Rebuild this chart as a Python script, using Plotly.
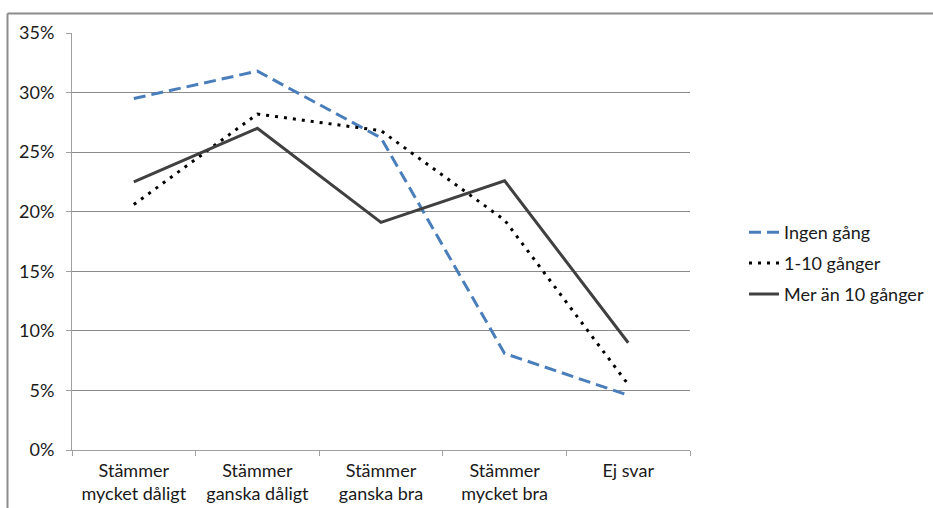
import plotly.graph_objects as go

categories = [
    "Stämmer<br>mycket dåligt",
    "Stämmer<br>ganska dåligt",
    "Stämmer<br>ganska bra",
    "Stämmer<br>mycket bra",
    "Ej svar",
]
ingen_gang = [0.295, 0.318, 0.262, 0.081, 0.046]
en_till_tio = [0.206, 0.282, 0.268, 0.193, 0.055]
mer_an_tio = [0.225, 0.270, 0.191, 0.226, 0.090]

FONT = "Lato, 'Open Sans', sans-serif"

fig = go.Figure()
fig.add_trace(go.Scatter(
    x=categories, y=ingen_gang, mode="lines", name="Ingen gång",
    legendgroup="a", line=dict(color="#4a7ebb", width=3, dash="12px,6px"),
))
fig.add_trace(go.Scatter(
    x=categories, y=en_till_tio, mode="lines", name="1-10 gånger",
    legendgroup="b", line=dict(color="#000000", width=3, dash="3px,6px"),
))
fig.add_trace(go.Scatter(
    x=categories, y=mer_an_tio, mode="lines", name="Mer än 10 gånger",
    legendgroup="c", line=dict(color="#404040", width=3),
))

# outer chart frame (only top and left edges are visible in the crop)
left_px, right_px, top_px, bottom_px = 72, 690, 33, 450
w = right_px - left_px
h = bottom_px - top_px
fx = lambda px: (px - left_px) / w
fy = lambda py: (bottom_px - py) / h
fig.add_shape(type="line", xref="paper", yref="paper",
              x0=fx(7.5), x1=fx(940), y0=fy(13.5), y1=fy(13.5),
              line=dict(color="#8c8c8c", width=2))
fig.add_shape(type="line", xref="paper", yref="paper",
              x0=fx(7.5), x1=fx(7.5), y0=fy(13.5), y1=fy(520),
              line=dict(color="#8c8c8c", width=2))

fig.update_layout(
    width=933, height=508,
    margin=dict(l=left_px, r=933 - right_px, t=top_px, b=508 - bottom_px,
                autoexpand=False),
    plot_bgcolor="white", paper_bgcolor="white",
    font=dict(family=FONT, size=18, color="#1a1a1a"),
    showlegend=True,
    legend=dict(x=fx(744), y=fy(214), xanchor="left", yanchor="top",
                font=dict(size=18), traceorder="grouped", tracegroupgap=4.5,
                bgcolor="rgba(0,0,0,0)"),
)
fig.update_xaxes(
    type="category", range=[-0.5, 4.5], tickson="boundaries",
    ticks="outside", ticklen=5, tickcolor="#a0a0a0",
    showline=True, linecolor="#a0a0a0", linewidth=1,
    showgrid=False, tickfont=dict(size=18), automargin=False,
    ticklabelstandoff=4,
)
fig.update_yaxes(
    range=[0, 0.35], dtick=0.05, tickformat=".0%",
    ticks="outside", ticklen=5, tickcolor="#a0a0a0",
    showline=True, linecolor="#a0a0a0", linewidth=1,
    showgrid=True, gridcolor="#8a8a8a", gridwidth=1,
    zeroline=False, tickfont=dict(size=18), automargin=False,
    ticklabelstandoff=8,
)

fig.write_html(
    "out.html",
    config={"displayModeBar": False},
    post_script="document.body.style.margin='0';document.body.style.overflow='hidden';",
)
